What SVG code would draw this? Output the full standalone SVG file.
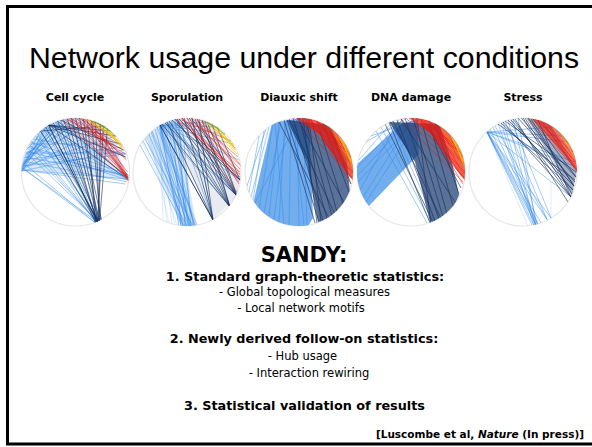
<svg xmlns="http://www.w3.org/2000/svg" width="592" height="447" viewBox="0 0 592 447">
<style>
.ttl{font-family:"Liberation Sans",Arial,sans-serif;font-size:30.3px;fill:#000}
.lbl{font-family:"DejaVu Sans",Verdana,sans-serif;font-size:11px;font-weight:bold;fill:#000}
.h1{font-family:"DejaVu Sans",Verdana,sans-serif;font-size:21px;font-weight:bold;fill:#000}
.h2{font-family:"DejaVu Sans",Verdana,sans-serif;font-size:12.8px;font-weight:bold;fill:#000}
.tx{font-family:"DejaVu Sans",Verdana,sans-serif;font-size:11.5px;fill:#000}
.cit{font-family:"DejaVu Sans",Verdana,sans-serif;font-size:10.5px;font-weight:bold;fill:#000}
.ring{fill:none;stroke:#e6e6e6;stroke-width:1.2}
.lb{fill:none;stroke:#2f88ea;stroke-opacity:.55;stroke-width:.8}
.vl{fill:none;stroke:#5aa2f0;stroke-opacity:.35;stroke-width:.6}
.db{fill:none;stroke:#162f5c;stroke-opacity:.72;stroke-width:.85}
.rd{fill:none;stroke:#ee1408;stroke-opacity:.6;stroke-width:.8}
.or{fill:none;stroke:#f27a10;stroke-opacity:.65;stroke-width:.8}
.yl{fill:none;stroke:#f2d00c;stroke-opacity:.85;stroke-width:.9}
.gr{fill:none;stroke:#4f9a2c;stroke-opacity:.7;stroke-width:.8}
.fb{fill:#3b8de8;fill-opacity:.72;stroke:none}
.fb2{fill:#3b8de8;fill-opacity:.2;stroke:none}
.fd{fill:#1b3a70;fill-opacity:.72;stroke:none}
.fd2{fill:#1b3a70;fill-opacity:.1;stroke:none}
.fr{fill:#f01a0c;fill-opacity:.7;stroke:none}
</style>
<defs>
<clipPath id="cc"><circle cx="0" cy="0" r="54"/></clipPath>
</defs>
<rect x="7.5" y="6.5" width="600" height="437.5" fill="#fff" stroke="#000" stroke-width="3"/>

<g id="title"><text class="ttl" x="304" y="68" text-anchor="middle">Network usage under different conditions</text></g>

<g id="labels">
<text class="lbl" x="75" y="101" text-anchor="middle">Cell cycle</text>
<text class="lbl" x="187" y="101" text-anchor="middle">Sporulation</text>
<text class="lbl" x="299" y="101" text-anchor="middle">Diauxic shift</text>
<text class="lbl" x="411" y="101" text-anchor="middle">DNA damage</text>
<text class="lbl" x="523" y="101" text-anchor="middle">Stress</text>
</g>

<g id="net-cellcycle" transform="translate(75.5,172)">
<circle class="ring" r="54"/>
<g clip-path="url(#cc)">
<polygon class="fb2" points="-56,-3 -40,-38 -20,-52 0,-56 30,-48 54,8"/>
<path class="lb" d="M-53,-5L-27,-47M-53,-3L-18,-51M-52,-10L-8,-53M-53,-8L0,-54M-50,-18L10,-53M-54,-2L52,7M-53,-6L50,-18M-52,-12L47,-25M-51,-15L52,3M-48,-25L52,8M-46,-28L45,-28M-53,-4L22,50M-52,-9L20,51M-50,-20L23,50M-44,-31L21,50M-40,-36L24,49M-53,-3L12,-52.5M-54,0L-22,-49M-49,-22L-27,-47M-30,-45L52,6M-25,-48L50,-15M-20,-50L52,4M-15,-52L22,50M-5,-54L24,49M-38,-38L20,51M-54,-1L-30,-45M-53,-7L-24,-48M-52,-13L-14,-52M-51,-16L-4,-54M-54,-2L30,-45M-53,-5L40,-36M-52,-11L52,10M-50,-19L50,-19M-47,-26L53,5M-33,-43L52,8M-35,-41L22,50M-28,-46L26,48M-54,-3L-35,-41M-53,-6L-12,-52.5M-52,-8L4,-54M-51,-14L20,-50M-49,-21L52,5M-54,-1L48,-22M-53,-2L50,12M-45,-30L52,2M-42,-33L50,-18M-48,-24L23,50M-46,-28L21,50M-53,-4L20,51M-32,-44L23,50M-20,-50L21,50"/>
<path class="db" d="M-27,-47L22,50M-18,-51L23,50M-8,-53L21,50M0,-54L24,49M8,-53L22,50M16,-51L25,49M25,-48L23,50M32,-44L24,49M-35,-41L21,50M-22,-49L20,51M4,-54L26,48M12,-52.5L20,51M-27,-47L52,7M-27,-47L45,-28M-27,-47L40,-36M-18,-51L52,5M-27,-47L35,-41M-35,-41L30,-46M-12,-52.5L22,50M20,-50L24,49M-4,-54L23,50M28,-46L22,50M-27,-47L22,50M-30,-45L23,50M-27,-47L50,-15M-15,-52L48,-22"/>
<path class="rd" d="M-11,-53L52,7M-5,-54L52,5M0,-54L50,-15M5,-54L52,3M10,-53L53,8M14,-52L45,-28M-8,-53L48,-22M18,-51L52,6M2,-54L40,-36M-14,-52L53,7M8,-53L51,-12M-3,-54L53,4M12,-53L52,0M22,-50L53,6M-6,-54L46,-27M16,-51L53,9M6,-54L52,6M-9,-53L50,-18"/>
<path class="yl" d="M15,-52L45,-28M20,-50L43,-31M25,-48L47,-25M10,-53L40,-34M28,-47L48,-22M30,-45L47,-26"/>
<path class="gr" d="M18,-51L35,-41M22,-50L38,-38M14,-52L30,-45"/>
</g>
</g>

<g id="net-sporulation" transform="translate(187,172)">
<circle class="ring" r="54"/>
<g clip-path="url(#cc)">
<polygon class="fb2" points="-27,-47 -42,-34 -5,56 10,56 -10,-54"/>
<polygon class="fd2" points="-22,-50 24,-50 53,6 50,24 26,48"/>
<path class="vl" d="M-27,-47L-15,52M-27,-47L-8,53.4M-40,-36L-10,53M-30,-45L-20,50M-45,-30L-5,54M-35,-41L-12,52.6M-27,-47L-24,48M-38,-38L-18,51"/>
<path class="lb" d="M-27,-47L-4,54M-27,-47L0,54M-27,-47L4,54M-27,-47L8,53.4M-27,-47L-8,53.4M-38,-38L-2,54M-35,-41L5,54M-20,-50L2,54M-15,-52L-6,53.6M-10,-53L6,53.6M-44,-31L0,54M-47,-27L-3,54M-30,-45L10,53M-25,-48L3,54M-22,-49L-1,54M-18,-51L7,53.5M-32,-43L-4,54M-12,-53L1,54M-27,-47L43,35M-27,-47L50,24M-27,-47L53,8M-27,-47L52,-12M-27,-47L46,-28M-27,-47L38,-38M-15,-52L43,35M-5,-54L50,24M5,-54L26,48M-20,-50L50,24M-10,-53L26,48M-27,-47L30,-45M-27,-47L20,-50M-8,-53L-2,54M-5,-54L4,54M-42,-33L6,53.6M-36,-40L2,54M-28,-46L-6,53.6M-24,-48L8,53.4M-16,-51L3,54"/>
<path class="db" d="M-27,-47L26,48M-20,-50L26,48M-10,-53L43,35M0,-54L43,35M10,-53L50,24M-5,-54L50,24M15,-52L43,35M20,-50L50,24M-15,-52L53,8M5,-54L26,48M-25,-48L43,35M25,-48L50,24M-12,-53L50,24M8,-53L43,35M30,-45L53,8M-27,-47L26,48M-18,-51L43,35M2,-54L50,24M12,-53L26,48M-8,-53L53,8M-3,-54L26,48M18,-51L43,35M-22,-49L50,24M4,-54L53,8"/>
<path class="rd" d="M-10,-53L53,0M-5,-54L53,5M0,-54L52,10M5,-54L53,-3M10,-53L52,12M-3,-54L50,20M15,-52L53,2M20,-50L48,-24M-8,-53L44,-31M2,-54L54,-6M8,-53L51,-15M-12,-53L53,3M12,-53L53,-8"/>
<path class="yl" d="M20,-50L46,-27M25,-48L48,-22M18,-51L50,-18M28,-47L49,-22M30,-45L47,-26"/>
<path class="gr" d="M15,-52L33,-43M20,-50L38,-38"/>
</g>
</g>

<g id="net-diauxic" transform="translate(299,172)">
<circle class="ring" r="54"/>
<g clip-path="url(#cc)">
<polygon class="fb" points="-27,-49 10,-55 14,46 8,56 -40,56 -46,32"/>
<path class="lb" d="M-26,-49L-40,37M-20,-50L-30,44M-14,-52L-20,50M-8,-53L-10,53M-2,-54L0,54M4,-54L8,53M-24,-49L-15,52M-18,-51L-35,41M-12,-52L-25,47M-6,-54L5,54M0,-54L-44,31M-35,-41L-46,28M-40,-36L-50,20M-30,-45L-48,25M-33,-43L-52,14"/>
<polygon class="fd" points="-12,-52 31,-47 48,-10 51,20 38,43 19,50 8,-10"/>
<path class="db" d="M-12,-52L20,50M-6,-54L24,49M0,-54L28,47M6,-54L33,44M12,-53L38,40M18,-51L44,32M24,-49L50,20M30,-45L52,12M-10,-53L36,42M-2,-54L45,30M-15,-52L16,51M4,-54L18,51M10,-53L22,50M-20,-50L30,46"/>
<polygon class="fr" points="-4,-55 28,-52 56,-24 56,10 50,4 20,-38"/>
<path class="rd" d="M-5,-54L53,5M0,-54L54,0M5,-54L53,-8M10,-53L54,8M15,-52L52,-15M20,-50L53,2M25,-48L54,-5M-2,-54L50,-20M8,-53L48,-25M12,-53L52,12M18,-51L51,-18"/>
<path class="or" d="M30,-45L53,-10M35,-41L54,-2M38,-38L52,-15M33,-43L54,6"/>
<path class="yl" d="M40,-36L54,-8M44,-31L53,-14M42,-34L54,-4"/>
<path class="gr" d="M22,-50L34,-42"/>
</g>
</g>

<g id="net-dnadamage" transform="translate(411,172)">
<circle class="ring" r="54"/>
<g clip-path="url(#cc)">
<polygon class="fb" points="-56,-6 -10,-48 6,-52 8,-18 -44,36 -56,22"/>
<path class="lb" d="M-54,-4L-8,-53M-54,4L0,-54M-53,10L6,-54M-51,18L-12,-52M-48,25L2,-54M-45,30L8,-53M-52,-12L-18,-51M-30,-45L20,51M-20,-50L24,49M-10,-53L28,47M-40,-36L8,-53M-45,-30L-4,-54M-35,-41L16,51"/>
<polygon class="fd" points="-22,-50 28,-48 41,-10 48,23 38,46 19,50 4,-10"/>
<path class="db" d="M-22,-50L19,51M-14,-52L24,49M-6,-54L28,47M2,-54L32,45M10,-53L36,42M18,-51L42,34M24,-49L48,22M-18,-51L30,46M6,-54L20,51M14,-52L50,16M-10,-53L44,30M-26,-48L22,50"/>
<polygon class="fr" points="-2,-55 28,-52 56,-24 56,10 50,4 20,-38"/>
<path class="rd" d="M-5,-54L53,5M0,-54L54,0M5,-54L53,-8M10,-53L54,8M15,-52L52,-15M20,-50L53,2M25,-48L54,-5M-2,-54L50,-20M8,-53L48,-25M12,-53L52,12M18,-51L51,-18M-10,-53L52,10"/>
<path class="or" d="M30,-45L53,-10M35,-41L54,-2M38,-38L52,-15M33,-43L54,6"/>
<path class="yl" d="M40,-36L54,-8M44,-31L53,-14M42,-34L54,-4"/>
<path class="gr" d="M22,-50L34,-42"/>
</g>
</g>

<g id="net-stress" transform="translate(523,172)">
<circle class="ring" r="54"/>
<g clip-path="url(#cc)">
<path class="lb" d="M-36,-40L13,53M-36,-40L11,53.5M-36,-40L15,52M-36,-40L24,47.5M-36,-40L28,46M-20,-50L13,53M-15,-52L12,53.5M-10,-53L14,52M-25,-48L13,53M-30,-45L15,52M-5,-54L13,53M-18,-51L24,47.5M-22,-49L11,53.5M-36,-40L52,-10M-36,-40L53,-5M-36,-40L48,25M-36,-40L45,-30M-36,-40L40,-36M-36,-40L9,53M-36,-40L18,51M-28,-46L24,47.5M-12,-52L28,46M-36,-40L30,-45M-33,-43L13,53"/>
<path class="vl" d="M28,10L28,47M-36,-40L5,54"/>
<polygon class="fd" points="2,-56 26,-50 54,-2 49,24 30,-12" style="fill-opacity:.4"/>
<path class="db" d="M-20,-50L48,25M-15,-52L51,14M-10,-53L48,25M-5,-54L52,10M0,-54L48,25M5,-54L51,14M10,-53L53,5M-25,-48L52,8M15,-52L48,25M-18,-51L53,0M-12,-52L50,18M2,-54L49,22M-8,-53L45,30M8,-53L51,14M-2,-54L53,5M-22,-49L50,18"/>
<polygon class="fr" points="8,-55 30,-50 56,-16 56,2 40,-18" style="fill-opacity:.6"/>
<path class="rd" d="M10,-53L54,-5M15,-52L53,-10M20,-50L54,0M25,-48L52,-14M18,-51L54,-3M12,-53L50,-20M22,-50L53,-8M5,-54L54,-2"/>
<path class="yl" d="M38,-38L53,-12M42,-34L54,-16"/>
<path class="gr" d="M30,-45L46,-28"/>
</g>
</g>

<g id="sandy">
<text class="h1" x="304" y="262" text-anchor="middle">SANDY:</text>
<text class="h2" x="305" y="281" text-anchor="middle">1. Standard graph-theoretic statistics:</text>
<text class="tx" x="304.5" y="296" text-anchor="middle">- Global topological measures</text>
<text class="tx" x="301" y="312" text-anchor="middle">- Local network motifs</text>
<text class="h2" x="304" y="343" text-anchor="middle">2. Newly derived follow-on statistics:</text>
<text class="tx" x="302.5" y="360" text-anchor="middle">- Hub usage</text>
<text class="tx" x="309" y="377" text-anchor="middle">- Interaction rewiring</text>
<text class="h2" x="304.5" y="410" text-anchor="middle">3. Statistical validation of results</text>
</g>

<g id="citation">
<text class="cit" x="584" y="438" text-anchor="end">[Luscombe et al, <tspan font-style="italic">Nature</tspan> (In press)]</text>
</g>
</svg>
